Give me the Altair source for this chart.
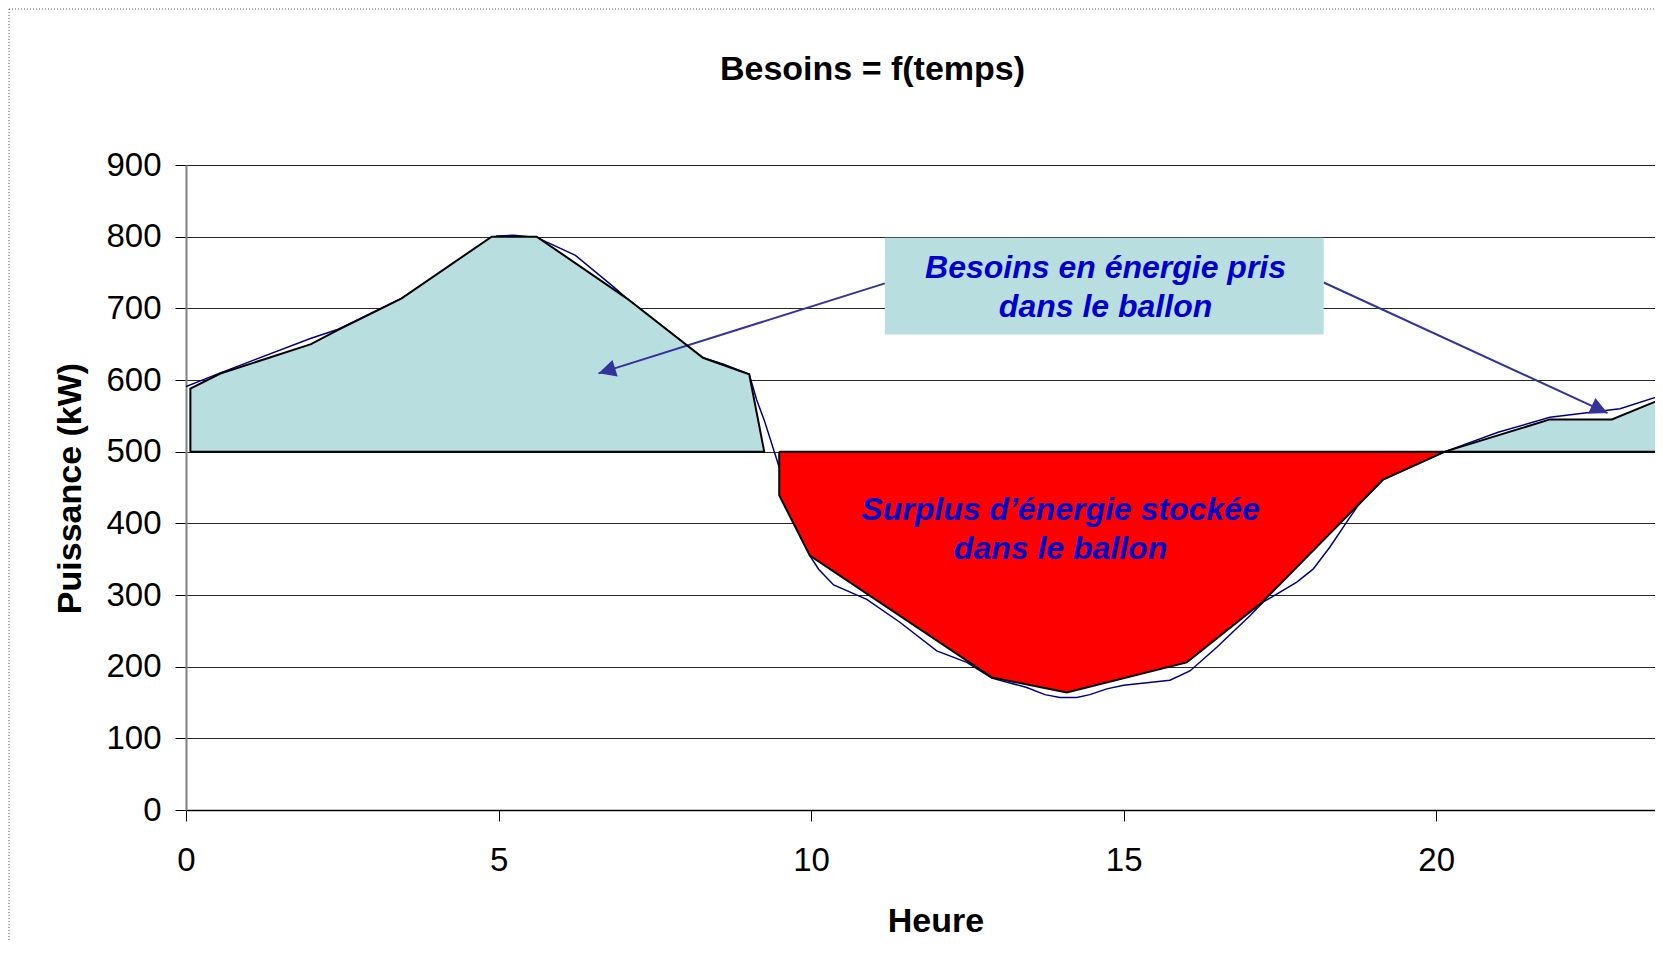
import math
import altair as alt
import pandas as pd

# ---------------- data ----------------
BASE = 500  # kW : niveau de production constante

TITLE = "Besoins = f(temps)"

# zone "Besoins en énergie pris dans le ballon" (gauche)
left_hours = [0.07, 0.07, 0.55, 2.00, 2.41, 3.45, 4.89, 5.61, 7.05, 8.27, 9.01, 9.25]
left_kw = [500, 588, 609, 650, 669, 714, 800, 800, 714, 631, 608, 500]

# zone "Surplus d'énergie stockée dans le ballon"
surplus_hours = [9.49, 9.49, 9.98, 12.89, 14.09, 16.01, 17.23, 19.15, 20.14]
surplus_kw = [500, 439, 355, 185, 164, 206, 291, 461, 500]

# zone "Besoins en énergie pris dans le ballon" (droite)
right_hours = [20.14, 21.82, 22.81, 23.62, 23.62]
right_kw = [500, 545, 545, 574, 500]

# courbe des besoins mesurés
curve_hours = [0.0, 0.55, 1.99, 2.41, 3.45, 4.97, 5.24, 5.61, 6.23, 6.84, 7.05, 8.27,
               8.6, 9.01, 9.13, 9.25, 9.48, 9.98, 10.12, 10.36, 10.89, 11.42, 12.01,
               12.49, 12.89, 13.45, 13.74, 13.98, 14.25, 14.46, 14.73, 15.0, 15.74,
               16.06, 16.49, 17.02, 17.23, 17.77, 18.03, 18.3, 18.57, 18.75, 19.15,
               20.14, 20.99, 21.82, 22.94, 23.62]
curve_kw = [591, 610, 658, 670, 714, 801, 802, 799, 774, 730, 714, 631,
            622, 608, 572, 544, 481, 355, 336, 314, 294, 262, 222,
            206, 184, 171, 161, 157, 157, 161, 169, 174, 181,
            194, 227, 271, 290, 318, 336, 367, 402, 425, 461,
            500, 527, 548, 560, 579]

# encadré d'annotation
box_hours = [11.18, 18.20]
box_kw = [663.4, 798.4]

# flèches (départ -> pointe)
arrow_start_hours = [11.18, 18.20]
arrow_start_kw = [734.8, 736.0]
arrow_tip_hours = [6.60, 22.74]
arrow_tip_kw = [609.3, 553.9]

labels_text = ["Besoins en énergie pris\ndans le ballon",
               "Surplus d\u2019énergie stockée\ndans le ballon"]
labels_hours = [14.71, 13.99]
labels_kw = [742.7, 404.6]

x_ticks = [0, 5, 10, 15, 20]
y_ticks = [0, 100, 200, 300, 400, 500, 600, 700, 800, 900]

# ---------------- layout ----------------
W, H = 1469, 645
X_MAX = 23.5
Y_MAX = 900
FONT = "Liberation Sans"
PAD_L, PAD_T = 178, 157

xs = alt.Scale(domain=[0, X_MAX], nice=False, zero=False)
ys = alt.Scale(domain=[0, Y_MAX], nice=False)


def frame(hours, kw):
    return pd.DataFrame({"h": hours, "kw": kw, "base": [BASE] * len(hours),
                         "i": list(range(len(hours)))})


def outline(hours, kw):
    return frame(list(hours) + [hours[0]], list(kw) + [kw[0]])


x_axis = alt.Axis(values=x_ticks, format="d", grid=False, tickSize=11, tickColor="#000000",
                  domainColor="#000000", domainWidth=1.5, labelFontSize=33,
                  labelFont=FONT, labelColor="#000000", labelPadding=23,
                  title="Heure", titleFont=FONT, titleFontSize=34,
                  titleFontWeight="bold", titleColor="#000000",
                  titleX=749.5, titleY=121, titleAlign="center",
                  titleBaseline="alphabetic", labelFlush=False)
y_axis = alt.Axis(values=y_ticks, format="d", grid=True, gridColor="#000000", gridWidth=1,
                  gridOpacity=0.85, tickSize=11, tickColor="#000000",
                  domainColor="#808080", domainWidth=2, labelFontSize=33,
                  labelFont=FONT, labelColor="#000000", labelPadding=14,
                  title="Puissance (kW)", titleFont=FONT, titleFontSize=34,
                  titleFontWeight="bold", titleColor="#000000", titleAngle=270,
                  titleX=-106, titleY=323, titleAlign="center",
                  titleBaseline="alphabetic")

# axes carrier (invisible points)
axes = alt.Chart(frame([0], [0])).mark_point(opacity=0).encode(
    x=alt.X("h:Q", scale=xs, axis=x_axis),
    y=alt.Y("kw:Q", scale=ys, axis=y_axis),
)

# chart title, centred above the plot like the reference
title = alt.Chart(pd.DataFrame({"t": [TITLE]})).mark_text(
    font=FONT, fontSize=34, fontWeight="bold", color="#000000",
    align="center", baseline="alphabetic"
).encode(x=alt.value(686.5), y=alt.value(-85), text="t:N")

# page-break style dotted border (top and left)
border_top = alt.Chart(frame([0], [0])).mark_rule(
    color="#555555", strokeWidth=1, strokeDash=[1, 2]
).encode(x=alt.value(-PAD_L + 1), x2=alt.value(W), y=alt.value(-PAD_T + 1))
border_left = alt.Chart(frame([0], [0])).mark_rule(
    color="#555555", strokeWidth=1, strokeDash=[1, 2]
).encode(x=alt.value(-PAD_L + 1), y=alt.value(-PAD_T + 1), y2=alt.value(H + 130))

curve = alt.Chart(frame(curve_hours, curve_kw)).mark_line(
    color="#000080", strokeWidth=1.5, clip=True
).encode(x=alt.X("h:Q", scale=xs), y=alt.Y("kw:Q", scale=ys), order="i:Q")


def fill(hours, kw, color):
    return alt.Chart(frame(hours, kw)).mark_area(color=color, opacity=1, clip=True).encode(
        x=alt.X("h:Q", scale=xs), y=alt.Y("kw:Q", scale=ys), y2="base:Q")


def edge(hours, kw):
    return alt.Chart(outline(hours, kw)).mark_line(
        color="#000000", strokeWidth=2, clip=True, strokeJoin="miter"
    ).encode(x=alt.X("h:Q", scale=xs), y=alt.Y("kw:Q", scale=ys), order="i:Q")


LIGHT = "#B9DEE0"
left_fill = fill(left_hours[1:], left_kw[1:], LIGHT)
red_fill = fill(surplus_hours[1:], surplus_kw[1:], "#FF0000")
right_fill = fill(right_hours[:-1], right_kw[:-1], LIGHT)

# arrows
px_h = W / X_MAX
px_kw = H / Y_MAX
angles = []
for sh, sk, th, tk in zip(arrow_start_hours, arrow_start_kw, arrow_tip_hours, arrow_tip_kw):
    dx = (th - sh) * px_h
    dy = -(tk - sk) * px_kw
    angles.append(math.degrees(math.atan2(dx, -dy)) % 360)

arrows_df = pd.DataFrame({"h": arrow_start_hours, "kw": arrow_start_kw,
                          "h2": arrow_tip_hours, "kw2": arrow_tip_kw, "angle": angles})
arrow_lines = alt.Chart(arrows_df).mark_rule(color="#333399", strokeWidth=2).encode(
    x=alt.X("h:Q", scale=xs), y=alt.Y("kw:Q", scale=ys), x2="h2:Q", y2="kw2:Q")
arrow_heads = alt.Chart(arrows_df).mark_point(
    shape="M0,0 L-0.5,1 L0.5,1 Z", filled=True, color="#333399", opacity=1,
    size=1200, strokeWidth=0
).encode(x=alt.X("h2:Q", scale=xs), y=alt.Y("kw2:Q", scale=ys),
         angle=alt.Angle("angle:Q", scale=None))

box = alt.Chart(pd.DataFrame({"h": [box_hours[0]], "h2": [box_hours[1]],
                              "kw": [box_kw[0]], "kw2": [box_kw[1]]})).mark_rect(
    color=LIGHT, opacity=1
).encode(x=alt.X("h:Q", scale=xs), x2="h2:Q", y=alt.Y("kw:Q", scale=ys), y2="kw2:Q")

texts = alt.Chart(pd.DataFrame({"h": labels_hours, "kw": labels_kw, "t": labels_text})).mark_text(
    font=FONT, fontSize=32, fontWeight="bold", fontStyle="italic", color="#0000CC",
    align="center", baseline="alphabetic", lineBreak="\n", lineHeight=39
).encode(x=alt.X("h:Q", scale=xs), y=alt.Y("kw:Q", scale=ys), text="t:N")

chart = alt.layer(
    axes, border_top, border_left, title, curve, left_fill, red_fill, arrow_lines,
    arrow_heads, right_fill, edge(left_hours, left_kw), edge(surplus_hours, surplus_kw),
    edge(right_hours, right_kw), box, texts
).properties(
    width=W, height=H,
    autosize=alt.AutoSizeParams(type="none"),
    padding={"left": PAD_L, "top": PAD_T, "right": 0, "bottom": 140},
).configure_view(stroke=None).configure(background="#FFFFFF")

chart.save("out.html", embed_options={"renderer": "svg", "actions": False})
